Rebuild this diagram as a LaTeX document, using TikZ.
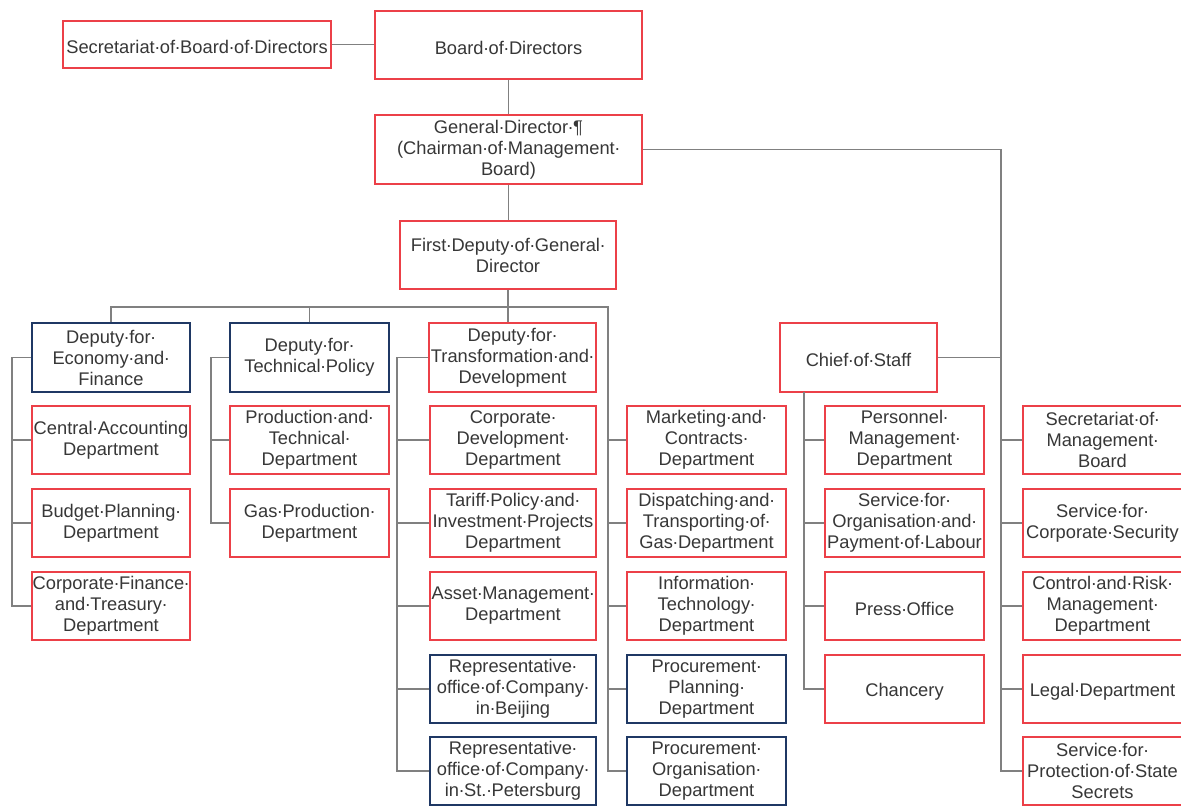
\documentclass[tikz,border=0pt]{standalone}
\usepackage{fontspec}
\setmainfont{Liberation Sans}
\newcommand\ws{\makebox[0.278em]{·}}
\definecolor{redb}{RGB}{236,64,72}
\definecolor{blueb}{RGB}{31,56,100}
\definecolor{linec}{RGB}{128,128,128}
\definecolor{txt}{RGB}{55,55,55}
\tikzset{
  box/.style={draw, line width=1.2pt, fill=white, inner sep=0pt, align=center, text=txt,
    font=\fontsize{18.3}{21}\selectfont, minimum height=68pt,
    execute at begin node={\rule{0pt}{19pt}}},
  rbox/.style={box, draw=redb},
  bbox/.style={box, draw=blueb},
  conn/.style={draw=linec, line width=1.5pt}
}
\begin{document}
\begin{tikzpicture}[x=1pt, y=-1pt]
\useasboundingbox (0,0) rectangle (1181,806);
% top
\node[rbox, minimum width=268pt, minimum height=47pt] (secbod) at (197,44.5) {Secretariat\ws of\ws Board\ws of\ws Directors};
\node[rbox, minimum width=267pt] (bod) at (508.5,45) {Board\ws of\ws Directors};
\node[rbox, minimum width=267pt, minimum height=69pt] (gd) at (508.5,149.5) {General\ws Director\ws ¶\\(Chairman\ws of\ws Management\ws\\Board)};
\node[rbox, minimum width=216pt] (fd) at (508,255) {First\ws Deputy\ws of\ws General\ws\\Director};
% deputies
\node[bbox, minimum width=158pt, minimum height=69pt] (depec) at (111,357.5) {Deputy\ws for\ws\\Economy\ws and\ws\\Finance};
\node[bbox, minimum width=159pt, minimum height=69pt] (deptech) at (309.5,357.5) {Deputy\ws for\ws\\Technical\ws Policy};
\node[rbox, minimum width=167pt, minimum height=69pt] (deptr) at (512.5,357.5) {Deputy\ws for\ws\\Transformation\ws and\ws\\Development};
\node[rbox, minimum width=157pt, minimum height=69pt] (chief) at (858.5,357.5) {Chief\ws of\ws Staff};
% column 1
\node[rbox, minimum width=158pt] (ec1) at (111,440) {Central\ws Accounting\\Department};
\node[rbox, minimum width=158pt] (ec2) at (111,523) {Budget\ws Planning\ws\\Department};
\node[rbox, minimum width=158pt] (ec3) at (111,606) {Corporate\ws Finance\ws\\and\ws Treasury\ws\\Department};
% column 2
\node[rbox, minimum width=159pt] (te1) at (309.5,440) {Production\ws and\ws\\Technical\ws\\Department};
\node[rbox, minimum width=159pt] (te2) at (309.5,523) {Gas\ws Production\ws\\Department};
% column 3
\node[rbox, minimum width=166pt] (tr1) at (513,440) {Corporate\ws\\Development\ws\\Department};
\node[rbox, minimum width=166pt] (tr2) at (513,523) {Tariff\ws Policy\ws and\ws\\Investment\ws Projects\\Department};
\node[rbox, minimum width=166pt] (tr3) at (513,606) {Asset\ws Management\ws\\Department};
\node[bbox, minimum width=166pt] (tr4) at (513,689) {Representative\ws\\office\ws of\ws Company\ws\\in\ws Beijing};
\node[bbox, minimum width=166pt] (tr5) at (513,771) {Representative\ws\\office\ws of\ws Company\ws\\in\ws St.\ws Petersburg};
% column 4
\node[rbox, minimum width=159pt] (mk1) at (706.5,440) {Marketing\ws and\ws\\Contracts\ws\\Department};
\node[rbox, minimum width=159pt] (mk2) at (706.5,523) {Dispatching\ws and\ws\\Transporting\ws of\ws\\Gas\ws Department};
\node[rbox, minimum width=159pt] (mk3) at (706.5,606) {Information\ws\\Technology\ws\\Department};
\node[bbox, minimum width=159pt] (mk4) at (706.5,689) {Procurement\ws\\Planning\ws\\Department};
\node[bbox, minimum width=159pt] (mk5) at (706.5,771) {Procurement\ws\\Organisation\ws\\Department};
% column 5
\node[rbox, minimum width=159pt] (cs1) at (904.5,440) {Personnel\ws\\Management\ws\\Department};
\node[rbox, minimum width=159pt] (cs2) at (904.5,523) {Service\ws for\ws\\Organisation\ws and\ws\\Payment\ws of\ws Labour};
\node[rbox, minimum width=159pt] (cs3) at (904.5,606) {Press\ws Office};
\node[rbox, minimum width=159pt] (cs4) at (904.5,689) {Chancery};
% column 6
\node[rbox, minimum width=159pt] (rt1) at (1102.5,440) {Secretariat\ws of\ws\\Management\ws\\Board};
\node[rbox, minimum width=159pt] (rt2) at (1102.5,523) {Service\ws for\ws\\Corporate\ws Security};
\node[rbox, minimum width=159pt] (rt3) at (1102.5,606) {Control\ws and\ws Risk\ws\\Management\ws\\Department};
\node[rbox, minimum width=159pt] (rt4) at (1102.5,689) {Legal\ws Department};
\node[rbox, minimum width=159pt] (rt5) at (1102.5,771) {Service\ws for\ws\\Protection\ws of\ws State\\Secrets};
% coordinates
\coordinate (busL) at (111,307);
\coordinate (busR) at (608,307);
\coordinate (ecL) at (12,357.5);
\coordinate (teL) at (211,357.5);
\coordinate (trL) at (397,357.5);
\coordinate (csL) at (804,392);
\coordinate (rtT) at (1001,149.5);
% connectors
\draw[conn] (secbod.east) -- (secbod.east -| bod.west);
\draw[conn] (bod.south) -- (gd.north);
\draw[conn] (gd.south) -- (gd.south |- fd.north);
\draw[conn] (fd.south) -- (fd.south |- deptr.north);
\draw[conn] (depec.north) -- (busL) -- (busR) -- (busR |- mk5.west) -- (mk5.west);
\draw[conn] (deptech.north) -- (deptech.north |- busL);
\foreach \n in {mk1,mk2,mk3,mk4} \draw[conn] (busR |- \n.west) -- (\n.west);
\draw[conn] (depec.west) -- (ecL) -- (ecL |- ec3.west) -- (ec3.west);
\foreach \n in {ec1,ec2} \draw[conn] (ecL |- \n.west) -- (\n.west);
\draw[conn] (deptech.west) -- (teL) -- (teL |- te2.west) -- (te2.west);
\draw[conn] (teL |- te1.west) -- (te1.west);
\draw[conn] (deptr.west) -- (trL) -- (trL |- tr5.west) -- (tr5.west);
\foreach \n in {tr1,tr2,tr3,tr4} \draw[conn] (trL |- \n.west) -- (\n.west);
\draw[conn] (csL) -- (csL |- cs4.west) -- (cs4.west);
\foreach \n in {cs1,cs2,cs3} \draw[conn] (csL |- \n.west) -- (\n.west);
\draw[conn] (gd.east) -- (rtT) -- (rtT |- rt5.west) -- (rt5.west);
\draw[conn] (chief.east) -- (chief.east -| rtT);
\foreach \n in {rt1,rt2,rt3,rt4} \draw[conn] (rtT |- \n.west) -- (\n.west);
\end{tikzpicture}
\end{document}
